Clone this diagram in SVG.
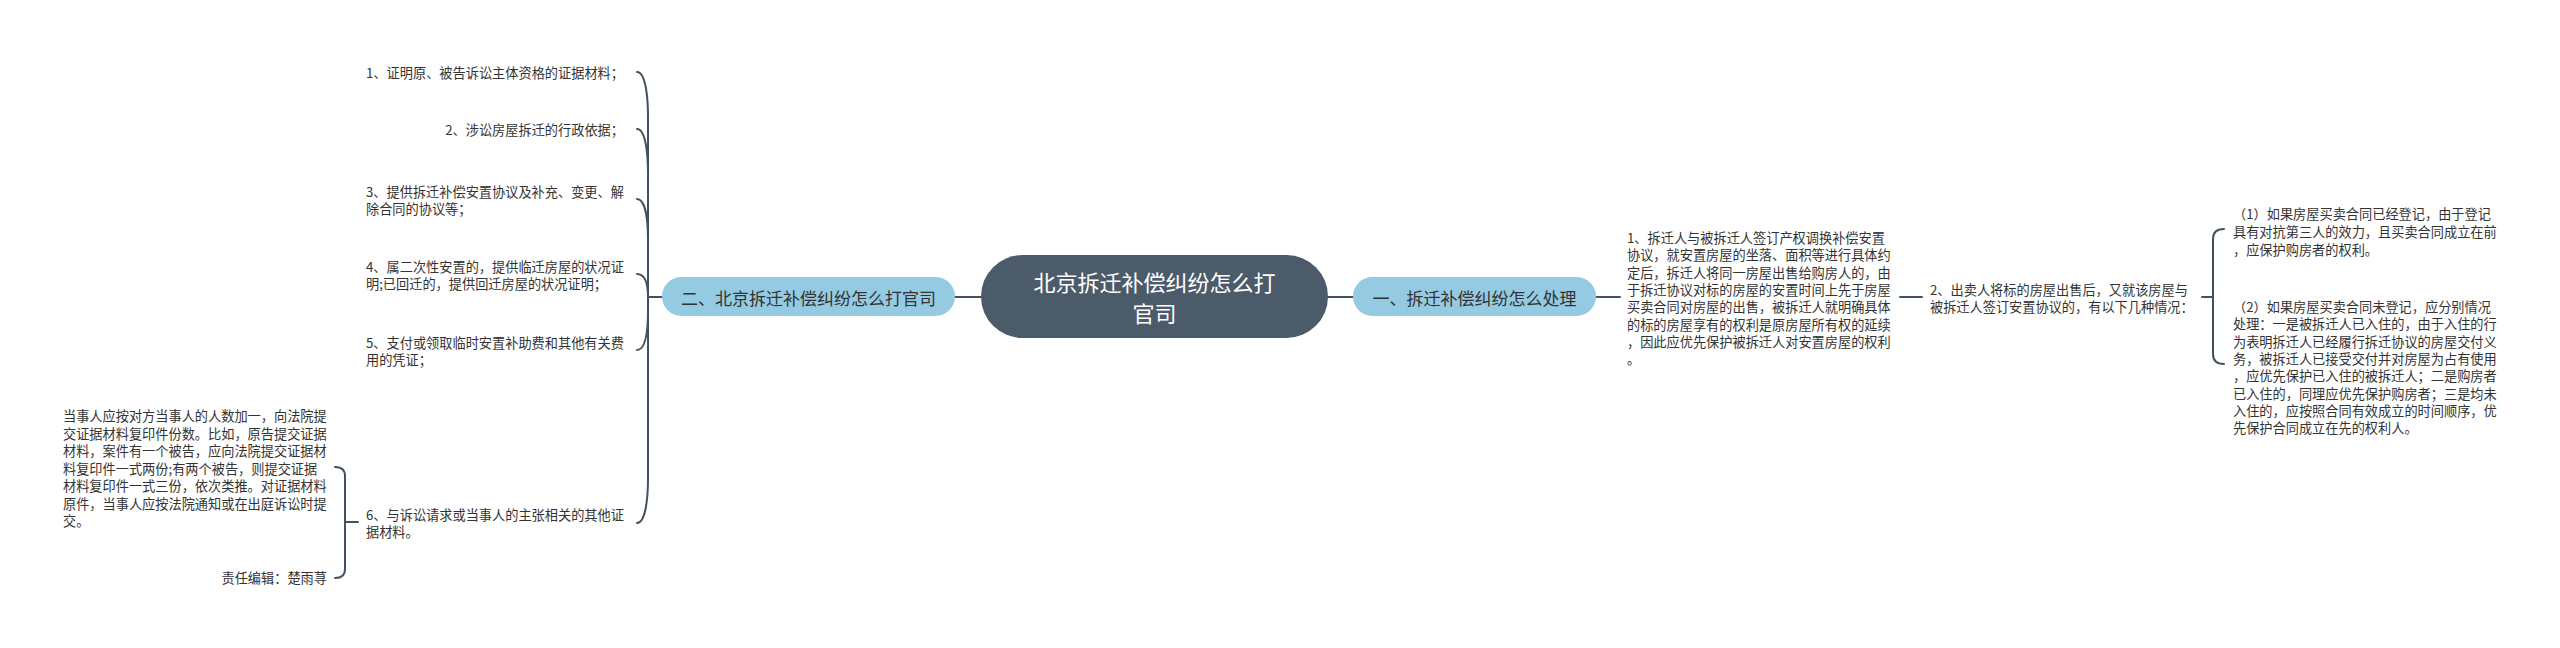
<svg xmlns="http://www.w3.org/2000/svg" width="2560" height="648" viewBox="0 0 2560 648">
<style>
.bg{fill:#ffffff}
.conn{fill:none;stroke:#44525f;stroke-width:2;stroke-linecap:round}
.root{fill:#4c5b6a}
.branch{fill:#95cae3}
.t{font-family:"Microsoft YaHei","Noto Sans CJK SC","Noto Sans",sans-serif;font-size:13.2px;fill:#333333;dominant-baseline:central}
.bt{font-family:"Microsoft YaHei","Noto Sans CJK SC","Noto Sans",sans-serif;font-size:17px;fill:#333333;dominant-baseline:central;text-anchor:middle}
.rt{font-family:"Microsoft YaHei","Noto Sans CJK SC","Noto Sans",sans-serif;font-size:22px;fill:#ffffff;dominant-baseline:central;text-anchor:middle}
.end{text-anchor:end}
</style>
<rect class="bg" x="0" y="0" width="2560" height="648"/>
<g id="connectors">
<path class="conn" d="M981 297 L955 297"/>
<path class="conn" d="M1328 297 L1353 297"/>
<path class="conn" d="M1596 297 L1620 297"/>
<path class="conn" d="M1900 297 L1922 297"/>
<path class="conn" d="M2202 297 L2213 297"/>
<path class="conn" d="M2213 297 L2213 239 Q2213 229 2224 229"/>
<path class="conn" d="M2213 297 L2213 354 Q2213 364 2224 364"/>
<path class="conn" d="M662 297 L648 297"/>
<path class="conn" d="M648 297 L648 117 C648 99 646 72 637 72"/>
<path class="conn" d="M648 297 L648 174 C648 156 646 129 637 129"/>
<path class="conn" d="M648 297 L648 240 C648 222 646 199 637 199"/>
<path class="conn" d="M648 297 C648 284 646 274 637 274"/>
<path class="conn" d="M648 297 L648 310 C648 328 646 350 637 350"/>
<path class="conn" d="M648 297 L648 478 C648 496 646 523 637 523"/>
<path class="conn" d="M358 522 L345 522"/>
<path class="conn" d="M345 522 L345 476 Q345 467 335 467"/>
<path class="conn" d="M345 522 L345 569 Q345 578 335 578"/>
</g>
<g id="root">
<rect class="root" x="981" y="255" width="347" height="83" rx="41.5"/>
<text class="rt" x="1154.5" y="281">北京拆迁补偿纠纷怎么打</text>
<text class="rt" x="1154.5" y="312">官司</text>
</g>
<g id="branch1">
<rect class="branch" x="1353" y="277" width="243" height="39" rx="19.5"/>
<text class="bt" x="1474.5" y="297">一、拆迁补偿纠纷怎么处理</text>
</g>
<g id="branch2">
<rect class="branch" x="662" y="277" width="293" height="39" rx="19.5"/>
<text class="bt" x="808.5" y="297">二、北京拆迁补偿纠纷怎么打官司</text>
</g>
<g id="r-text1">
<text class="t" x="1627" y="237"><tspan x="1627">1、拆迁人与被拆迁人签订产权调换补偿安置</tspan><tspan x="1627" dy="17.3">协议，就安置房屋的坐落、面积等进行具体约</tspan><tspan x="1627" dy="17.3">定后，拆迁人将同一房屋出售给购房人的，由</tspan><tspan x="1627" dy="17.3">于拆迁协议对标的房屋的安置时间上先于房屋</tspan><tspan x="1627" dy="17.3">买卖合同对房屋的出售，被拆迁人就明确具体</tspan><tspan x="1627" dy="17.3">的标的房屋享有的权利是原房屋所有权的延续</tspan><tspan x="1627" dy="17.3">，因此应优先保护被拆迁人对安置房屋的权利</tspan><tspan x="1627" dy="17.3">。</tspan></text>
</g>
<g id="r-text2">
<text class="t" x="1930" y="288.5"><tspan x="1930">2、出卖人将标的房屋出售后，又就该房屋与</tspan><tspan x="1930" dy="17.3">被拆迁人签订安置协议的，有以下几种情况：</tspan></text>
</g>
<g id="r-case1">
<text class="t" x="2233" y="213"><tspan x="2233">（1）如果房屋买卖合同已经登记，由于登记</tspan><tspan x="2233" dy="17.8">具有对抗第三人的效力，且买卖合同成立在前</tspan><tspan x="2233" dy="17.8">，应保护购房者的权利。</tspan></text>
</g>
<g id="r-case2">
<text class="t" x="2233" y="306"><tspan x="2233">（2）如果房屋买卖合同未登记，应分别情况</tspan><tspan x="2233" dy="17.3">处理：一是被拆迁人已入住的，由于入住的行</tspan><tspan x="2233" dy="17.3">为表明拆迁人已经履行拆迁协议的房屋交付义</tspan><tspan x="2233" dy="17.3">务，被拆迁人已接受交付并对房屋为占有使用</tspan><tspan x="2233" dy="17.3">，应优先保护已入住的被拆迁人；二是购房者</tspan><tspan x="2233" dy="17.3">已入住的，同理应优先保护购房者；三是均未</tspan><tspan x="2233" dy="17.3">入住的，应按照合同有效成立的时间顺序，优</tspan><tspan x="2233" dy="17.3">先保护合同成立在先的权利人。</tspan></text>
</g>
<g id="l-item1">
<text class="t end" x="624" y="72">1、证明原、被告诉讼主体资格的证据材料；</text>
</g>
<g id="l-item2">
<text class="t end" x="624" y="129">2、涉讼房屋拆迁的行政依据；</text>
</g>
<g id="l-item3">
<text class="t" x="366" y="190.5"><tspan x="366">3、提供拆迁补偿安置协议及补充、变更、解</tspan><tspan x="366" dy="17.3">除合同的协议等；</tspan></text>
</g>
<g id="l-item4">
<text class="t" x="366" y="265.5"><tspan x="366">4、属二次性安置的，提供临迁房屋的状况证</tspan><tspan x="366" dy="17.3">明;已回迁的，提供回迁房屋的状况证明；</tspan></text>
</g>
<g id="l-item5">
<text class="t" x="366" y="341.5"><tspan x="366">5、支付或领取临时安置补助费和其他有关费</tspan><tspan x="366" dy="17.3">用的凭证；</tspan></text>
</g>
<g id="l-item6">
<text class="t" x="366" y="514"><tspan x="366">6、与诉讼请求或当事人的主张相关的其他证</tspan><tspan x="366" dy="17.3">据材料。</tspan></text>
</g>
<g id="l-note">
<text class="t" x="63" y="415"><tspan x="63">当事人应按对方当事人的人数加一，向法院提</tspan><tspan x="63" dy="17.5">交证据材料复印件份数。比如，原告提交证据</tspan><tspan x="63" dy="17.5">材料，案件有一个被告，应向法院提交证据材</tspan><tspan x="63" dy="17.5">料复印件一式两份;有两个被告，则提交证据</tspan><tspan x="63" dy="17.5">材料复印件一式三份，依次类推。对证据材料</tspan><tspan x="63" dy="17.5">原件，当事人应按法院通知或在出庭诉讼时提</tspan><tspan x="63" dy="17.5">交。</tspan></text>
</g>
<g id="l-editor">
<text class="t end" x="327" y="577">责任编辑：楚雨荨</text>
</g>
</svg>
